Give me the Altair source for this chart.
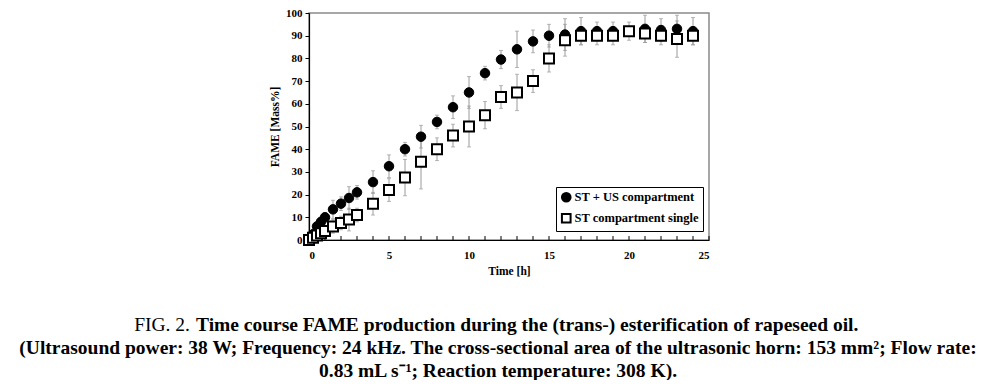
import altair as alt
import pandas as pd

# ---- data ----
time_h = [0, 0.25, 0.5, 0.75, 1, 1.5, 2, 2.5, 3, 4, 5, 6, 7, 8, 9, 10, 11, 12,
          13, 14, 15, 16, 17, 18, 19, 20, 21, 22, 23, 24]
st_us = [0, 2.5, 6, 8, 10, 13.5, 16, 18.5, 21, 25.5, 32.5, 40, 45.5, 52, 58.5, 65,
         73.5, 79.5, 84, 87.5, 90, 90.5, 92, 92, 92, 92, 93, 92.5, 93, 92]
st_us_err = [0, 1, 2, 2, 2, 4, 3, 5, 3, 5, 5, 3, 5, 3, 5, 7, 3, 4, 8, 5, 5, 7,
             6, 4, 4, 4, 6, 5, 6, 6]
st_single = [0, 1, 2, 3, 4, 6, 7.5, 9, 11, 16, 22, 27.5, 34.5, 40, 46, 50, 55, 63,
             65, 70, 80, 88, 90, 90, 90, 92, 91, 90, 88.5, 90]
st_single_err = [0, 1, 1, 2, 2, 3, 3, 5, 3, 5, 5, 8, 12, 5, 5, 9, 6, 5, 8, 5, 6,
                 7, 4, 4, 4, 2, 4, 4, 8, 4]
series_names = ["ST + US compartment", "ST compartment single"]
x_minor_ticks = list(range(0, 26))
x_labels = [0, 5, 10, 15, 20, 25]
y_labels = list(range(0, 101, 10))

caption_line1a = "FIG. 2."
caption_line1b = "Time course FAME production during the (trans-) esterification of rapeseed oil."
caption_line2 = ("(Ultrasound power: 38 W; Frequency: 24 kHz. The cross-sectional area of the "
                 "ultrasonic horn: 153 mm\u00b2; Flow rate:")
caption_line3 = "0.83 mL s\u207b\u00b9; Reaction temperature: 308 K)."

rows = []
for t, v, e in zip(time_h, st_us, st_us_err):
    rows.append({"t": t, "v": v, "lo": v - e, "hi": v + e, "series": series_names[0]})
for t, v, e in zip(time_h, st_single, st_single_err):
    rows.append({"t": t, "v": v, "lo": v - e, "hi": v + e, "series": series_names[1]})
df = pd.DataFrame(rows)

FONT = "Liberation Serif"
W, H = 400, 227
TOP = 5

xscale = alt.Scale(domain=[0, 25], nice=False, zero=False)
yscale = alt.Scale(domain=[0, 100], nice=False)

xaxis = alt.Axis(values=x_labels, ticks=False, grid=False, title="Time [h]",
                 labelFont=FONT, labelFontWeight="bold", labelFontSize=11,
                 labelColor="black", labelPadding=9, domainColor="black",
                 domainWidth=1.2, titleFont=FONT, titleFontWeight="bold",
                 titleFontSize=11.5, titleColor="black", titlePadding=5)
yaxis = alt.Axis(values=y_labels, tickCount=11, grid=False, title="FAME [Mass%]",
                 labelFont=FONT, labelFontWeight="bold", labelFontSize=11,
                 labelColor="black", tickSize=4, tickColor="black",
                 labelPadding=3, labelOverlap=False, labelBound=False,
                 domainColor="black", domainWidth=1.2,
                 titleFont=FONT, titleFontWeight="bold", titleFontSize=11.5,
                 titleColor="black", titlePadding=5)

base = alt.Chart(df)

err_rule = base.mark_rule(color="#9a9a9a", strokeWidth=1).encode(
    x=alt.X("t:Q", scale=xscale, axis=xaxis),
    y=alt.Y("lo:Q", scale=yscale, axis=yaxis),
    y2="hi:Q",
)
cap_lo = base.mark_tick(color="#9a9a9a", orient="horizontal", size=4, thickness=1).encode(
    x=alt.X("t:Q", scale=xscale, axis=xaxis), y=alt.Y("lo:Q", scale=yscale, axis=yaxis))
cap_hi = base.mark_tick(color="#9a9a9a", orient="horizontal", size=4, thickness=1).encode(
    x=alt.X("t:Q", scale=xscale, axis=xaxis), y=alt.Y("hi:Q", scale=yscale, axis=yaxis))

legend = alt.Legend(orient="none", legendX=247, legendY=187 - 8 - TOP, title=None,
                    strokeColor="black", padding=4, fillColor="white",
                    labelFont=FONT, labelFontWeight="bold", labelFontSize=12.5,
                    labelColor="black", symbolStrokeWidth=2,
                    symbolSize=75, rowPadding=3, labelOffset=2)
shape_enc = alt.Shape("series:N", scale=alt.Scale(domain=series_names, range=["circle", "square"]),
                      legend=legend)
fill_enc = alt.Fill("series:N", scale=alt.Scale(domain=series_names, range=["black", "white"]),
                    legend=legend)
stroke_enc = alt.Stroke("series:N", scale=alt.Scale(domain=series_names, range=["black", "black"]),
                        legend=legend)

circles = base.transform_filter(alt.datum.series == series_names[0]).mark_point(
    filled=False, strokeWidth=1, size=90, opacity=1).encode(
    x=alt.X("t:Q", scale=xscale, axis=xaxis), y=alt.Y("v:Q", scale=yscale, axis=yaxis),
    shape=shape_enc, fill=fill_enc, stroke=stroke_enc)
squares = base.transform_filter(alt.datum.series == series_names[1]).mark_point(
    filled=False, strokeWidth=2, size=100, opacity=1).encode(
    x=alt.X("t:Q", scale=xscale, axis=xaxis), y=alt.Y("v:Q", scale=yscale, axis=yaxis),
    shape=shape_enc, fill=fill_enc, stroke=stroke_enc)

tick_df = pd.DataFrame({"tick": x_minor_ticks})
inner_ticks = alt.Chart(tick_df).mark_rule(color="black", strokeWidth=1).encode(
    x=alt.X("tick:Q", scale=xscale, axis=xaxis),
    y=alt.value(H),
    y2=alt.value(H - 4),
)

one = alt.Data(values=[{"k": 1}])
OX = 309  # page x of plot origin
OY = 8 + TOP
FS = 19.5
cap1a = alt.Chart(one).mark_text(text=caption_line1a, font=FONT, fontSize=FS, align="right",
                                 baseline="alphabetic", color="black").encode(
    x=alt.value(190 - OX), y=alt.value(331 - OY))
cap1b = alt.Chart(one).mark_text(text=caption_line1b, font=FONT, fontSize=FS, fontWeight="bold",
                                 align="left", baseline="alphabetic", color="black").encode(
    x=alt.value(196 - OX), y=alt.value(331 - OY))
cap2 = alt.Chart(one).mark_text(text=caption_line2, font=FONT, fontSize=FS, fontWeight="bold",
                                align="center", baseline="alphabetic", color="black").encode(
    x=alt.value(498 - OX), y=alt.value(354 - OY))
cap3 = alt.Chart(one).mark_text(text=caption_line3, font=FONT, fontSize=FS, fontWeight="bold",
                                align="center", baseline="alphabetic", color="black").encode(
    x=alt.value(498 - OX), y=alt.value(377 - OY))

chart = alt.layer(err_rule, cap_lo, cap_hi, inner_ticks, circles, squares,
                  cap1a, cap1b, cap2, cap3).properties(
    width=W, height=H,
    autosize=alt.AutoSizeParams(type="none"),
    padding={"left": OX - 8, "top": TOP, "right": 270, "bottom": 140},
).configure_view(
    stroke="#8a8a8a", strokeWidth=1.5
).configure_legend(
    strokeWidth=1
)

chart.save("out.html", embed_options={"renderer": "svg", "actions": False})
